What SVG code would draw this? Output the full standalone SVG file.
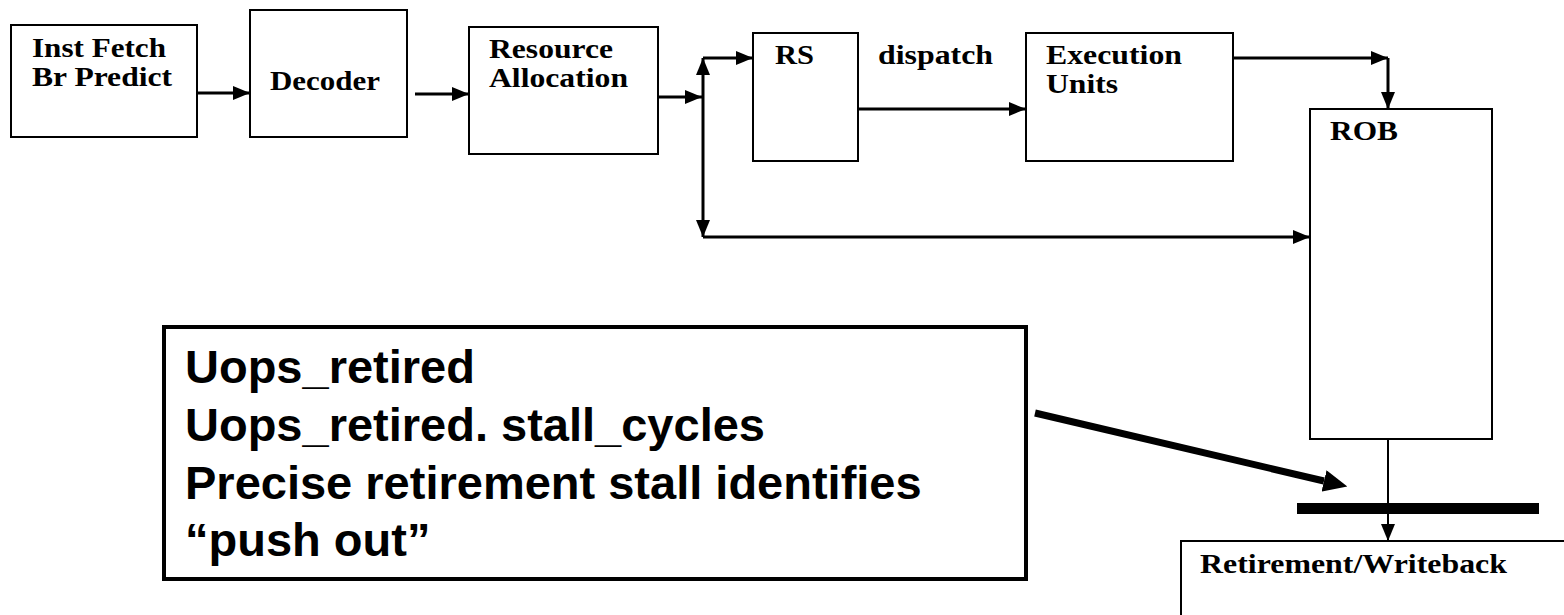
<svg xmlns="http://www.w3.org/2000/svg" width="1564" height="615" viewBox="0 0 1564 615">
  <style>
    .box { fill: #fff; stroke: #000; stroke-width: 2; }
    .lbl { font-family: "Liberation Serif", "Times New Roman", serif; font-weight: bold; font-size: 28px; fill: #000; }
    .note { font-family: "Liberation Sans", Arial, sans-serif; font-weight: bold; font-size: 47px; fill: #000; }
    .wire { fill: none; stroke: #000; stroke-width: 3; }
  </style>
  <defs>
    <marker id="ah" markerUnits="userSpaceOnUse" markerWidth="17" markerHeight="14" refX="17" refY="7" orient="auto-start-reverse">
      <path d="M0,0 L17,7 L0,14 z" fill="#000"/>
    </marker>
    <marker id="bigah" markerUnits="userSpaceOnUse" markerWidth="24" markerHeight="22" refX="0" refY="11" orient="auto">
      <path d="M0,0 L24,11 L0,22 z" fill="#000"/>
    </marker>
  </defs>

  <rect width="1564" height="615" fill="#fff"/>

  <!-- pipeline stages -->
  <g id="fetch">
    <rect class="box" x="11" y="25" width="186" height="112"/>
    <text class="lbl" x="32" y="57" textLength="134" lengthAdjust="spacingAndGlyphs">Inst Fetch</text>
    <text class="lbl" x="32" y="86" textLength="140" lengthAdjust="spacingAndGlyphs">Br Predict</text>
  </g>
  <g id="decoder">
    <rect class="box" x="250" y="10" width="157" height="127"/>
    <text class="lbl" x="270" y="90" textLength="110" lengthAdjust="spacingAndGlyphs">Decoder</text>
  </g>
  <g id="alloc">
    <rect class="box" x="469" y="27" width="189" height="127"/>
    <text class="lbl" x="489" y="58" textLength="124" lengthAdjust="spacingAndGlyphs">Resource</text>
    <text class="lbl" x="489" y="87" textLength="139" lengthAdjust="spacingAndGlyphs">Allocation</text>
  </g>
  <g id="rs">
    <rect class="box" x="753" y="33" width="105" height="128"/>
    <text class="lbl" x="775" y="64" textLength="39" lengthAdjust="spacingAndGlyphs">RS</text>
  </g>
  <g id="exec">
    <rect class="box" x="1026" y="33" width="207" height="128"/>
    <text class="lbl" x="1046" y="64" textLength="136" lengthAdjust="spacingAndGlyphs">Execution</text>
    <text class="lbl" x="1046" y="93" textLength="72" lengthAdjust="spacingAndGlyphs">Units</text>
  </g>
  <g id="rob">
    <rect class="box" x="1310" y="109" width="182" height="330"/>
    <text class="lbl" x="1330" y="140" textLength="68" lengthAdjust="spacingAndGlyphs">ROB</text>
  </g>
  <g id="retire">
    <rect class="box" x="1181" y="541" width="420" height="100"/>
    <text class="lbl" x="1200" y="573" textLength="307" lengthAdjust="spacingAndGlyphs">Retirement/Writeback</text>
  </g>

  <!-- retirement stall bar -->
  <g id="stall-bar">
    <rect x="1297" y="503" width="242" height="11" fill="#000"/>
  </g>

  <!-- event annotation -->
  <g id="events">
    <rect x="164" y="327" width="862" height="252" fill="#fff" stroke="#000" stroke-width="4"/>
    <text class="note" x="185" y="383">Uops_retired</text>
    <text class="note" x="185" y="441">Uops_retired. stall_cycles</text>
    <text class="note" x="185" y="499">Precise retirement stall identifies</text>
    <text class="note" x="185" y="556">“push out”</text>
  </g>

  <!-- connectors -->
  <g id="connectors">
    <path class="wire" d="M197,93 H250" marker-end="url(#ah)"/>
    <path class="wire" d="M415,94 H469" marker-end="url(#ah)"/>
    <path class="wire" d="M658,97 H702" marker-end="url(#ah)"/>
    <path class="wire" d="M703,58 V237" marker-start="url(#ah)" marker-end="url(#ah)"/>
    <path class="wire" d="M703,58 H753" marker-end="url(#ah)"/>
    <path class="wire" d="M703,237 H1310" marker-end="url(#ah)"/>
    <text class="lbl" x="878" y="64" textLength="115" lengthAdjust="spacingAndGlyphs">dispatch</text>
    <path class="wire" d="M858,109 H1026" marker-end="url(#ah)"/>
    <path class="wire" d="M1233,58 H1388" marker-end="url(#ah)"/>
    <path class="wire" d="M1388,58 V109" marker-end="url(#ah)"/>
    <path class="wire" style="stroke-width:2" d="M1388,439 V541" marker-end="url(#ah)"/>
    <path fill="none" stroke="#000" stroke-width="7" d="M1035,413 L1324,481" marker-end="url(#bigah)"/>
  </g>
</svg>
